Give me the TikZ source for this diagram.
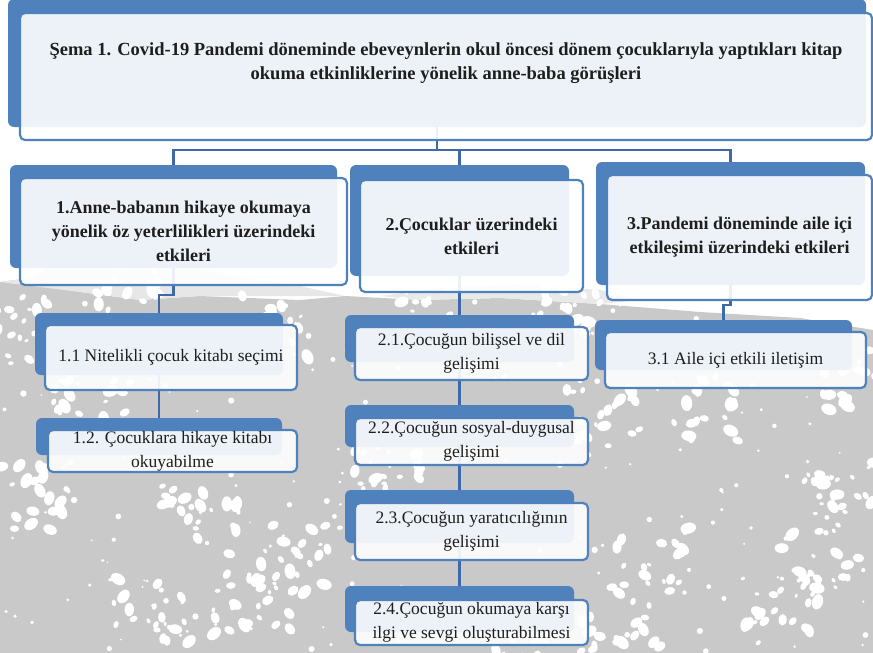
\documentclass[tikz,border=0pt]{standalone}
\usepackage{fontspec}
\setmainfont{Liberation Serif}
\usepackage{xcolor}
\usetikzlibrary{positioning}
\usetikzlibrary{backgrounds}

\definecolor{mavi}{HTML}{4F81BD}
\definecolor{hat}{HTML}{3D6AA6}
\definecolor{zemin}{HTML}{C9C9C9}
\definecolor{yazi}{HTML}{1E1E1E}

\tikzset{
  arka/.style={fill=mavi, rounded corners=6pt, inner sep=0pt},
  on/.style={draw=mavi, line width=2.2pt, rounded corners=5pt, fill=white, fill opacity=0.9, text opacity=1, text=yazi, align=center, inner sep=0pt},
  bag/.style={draw=hat, line width=2.4pt},
  baslik/.style={font=\fontsize{18.5}{24}\selectfont\bfseries},
  ust/.style={font=\fontsize{18}{24}\selectfont\bfseries},
  alt/.style={font=\fontsize{17.5}{24}\selectfont},
}

\begin{document}
\begin{tikzpicture}[x=1pt,y=-1pt]
            \useasboundingbox (0,0) rectangle (873,653);

            % gray map texture
            \begin{scope}[on background layer]
            \fill[zemin] (0,282)--(30,278)--(80,292)--(140,300)--(200,296)--(300,300)--(345,296)--(420,300)--(500,298)--(600,304)--(700,312)--(800,318)--(873,330)--(873,653)--(0,653)--cycle;
            \fill[zemin!45] (0,282)--(30,278)--(60,262)--(120,270)--(180,262)--(230,276)--(300,286)--(345,296)--(200,296)--(140,300)--(80,292)--cycle;
            \fill[zemin!40] (380,296)--(440,288)--(520,284)--(600,290)--(640,300)--(600,304)--(500,298)--(420,300)--cycle;
            \pgfmathsetseed{42}
            \foreach \cx/\cy in {20/330,90/400,200/520,250/600,150/610,300/560,390/470,600/420,650/560,780/610,840/480,860/380,700/410,520/640,30/500,420/300,560/320,270/330,120/300,820/560,620/630}{
                \foreach \k in {1,...,22}{
                    \pgfmathsetmacro\zx{\cx+rand*40}
                    \pgfmathsetmacro\zy{\cy+rand*35}
                    \pgfmathsetmacro\zr{2+rnd*6}
                    \pgfmathsetmacro\za{rnd*180}
                    \fill[white, rotate around={\za:(\zx,\zy)}] (\zx,\zy) ellipse[x radius=\zr pt, y radius=0.7*\zr pt];
                }
            }
            \foreach \k in {1,...,220}{
                \pgfmathsetmacro\zx{rnd*873}
                \pgfmathsetmacro\zy{300+rnd*353}
                \pgfmathsetmacro\zr{0.8+rnd*2.5}
                \fill[white] (\zx,\zy) circle[radius=\zr pt];
            }
            \end{scope}

            % title
            \node[arka, minimum width=858pt, minimum height=128pt] (kokg) at (437,63) {};
            \node[on, baslik, minimum width=852pt, minimum height=127pt] (kok) at (446,76.5) {Şema 1. Covid-19 Pandemi döneminde ebeveynlerin okul öncesi dönem çocuklarıyla yaptıkları kitap\\okuma etkinliklerine yönelik anne-baba görüşleri\\\strut};

            % first level
            \node[arka, minimum width=327pt, minimum height=103pt] (a1g) at (173.5,216.5) {};
            \node[on, ust, minimum width=327pt, minimum height=107pt] (a1) at (183.5,231.5) {1.Anne-babanın hikaye okumaya\\yönelik öz yeterlilikleri üzerindeki\\etkileri};
            \node[arka, minimum width=219pt, minimum height=111pt] (a2g) at (459.5,220.5) {};
            \node[on, ust, minimum width=223pt, minimum height=112pt] (a2) at (471.5,236) {2.Çocuklar üzerindeki\\etkileri};
            \node[arka, minimum width=269pt, minimum height=123pt] (a3g) at (730.5,223.5) {};
            \node[on, ust, minimum width=265pt, minimum height=125pt] (a3) at (739.5,237.5) {3.Pandemi döneminde aile içi\\etkileşimi üzerindeki etkileri};

            % second level
            \node[arka, minimum width=248pt, minimum height=62pt] (a11g) at (159,344) {};
            \node[on, alt, minimum width=252pt, minimum height=65pt] (a11) at (171,357.5) {1.1 Nitelikli çocuk kitabı seçimi};
            \node[arka, minimum width=246pt, minimum height=37pt] (a12g) at (159,436.5) {};
            \node[on, alt, minimum width=249pt, minimum height=42pt] (a12) at (172.5,451) {1.2. Çocuklara hikaye kitabı\\okuyabilme};

            \node[arka, minimum width=229pt, minimum height=47pt] (a21g) at (459.5,338.5) {};
            \node[on, alt, minimum width=233pt, minimum height=53pt] (a21) at (471.5,353.5) {2.1.Çocuğun bilişsel ve dil\\gelişimi};
            \node[arka, minimum width=229pt, minimum height=42pt] (a22g) at (459.5,426) {};
            \node[on, alt, minimum width=233pt, minimum height=47pt] (a22) at (471.5,441.5) {2.2.Çocuğun sosyal-duygusal\\gelişimi};
            \node[arka, minimum width=229pt, minimum height=53pt] (a23g) at (459.5,516.5) {};
            \node[on, alt, minimum width=233pt, minimum height=57pt] (a23) at (471.5,531.5) {2.3.Çocuğun yaratıcılığının\\gelişimi};
            \node[arka, minimum width=229pt, minimum height=46pt] (a24g) at (459.5,609) {};
            \node[on, alt, minimum width=233pt, minimum height=45pt] (a24) at (471.5,622.5) {2.4.Çocuğun okumaya karşı\\ilgi ve sevgi oluşturabilmesi};

            \node[arka, minimum width=257pt, minimum height=50pt] (a31g) at (723.5,345) {};
            \node[on, alt, minimum width=261pt, minimum height=56pt] (a31) at (735.5,360) {3.1 Aile içi etkili iletişim};

            % connectors
            \begin{scope}[on background layer]
            \draw[bag] (kokg.south)--++(0,23)-|(a1g.north);
            \draw[bag] (kokg.south)--++(0,23)-|(a2g.north);
            \draw[bag] (kokg.south)--++(0,23)-|(a3g.north);
            \draw[bag] (a1g.south)--++(0,27)-|(a11g.north);
            \draw[bag] (a11g.south)--(a12g.north);
            \draw[bag] (a2g.south)--(a21g.north);
            \draw[bag] (a21g.south)--(a22g.north);
            \draw[bag] (a22g.south)--(a23g.north);
            \draw[bag] (a23g.south)--(a24g.north);
            \draw[bag] (a3g.south)--++(0,20)-|(a31g.north);
            \end{scope}

        \end{tikzpicture}
\end{document}
